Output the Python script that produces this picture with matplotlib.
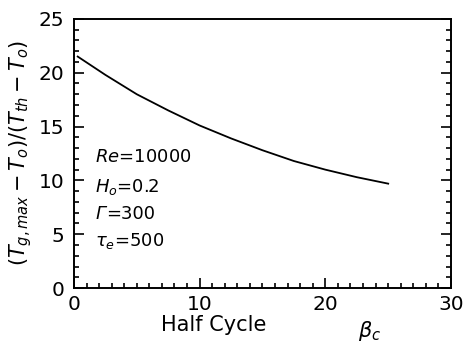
import matplotlib
matplotlib.use("Agg")
import matplotlib.pyplot as plt
from matplotlib.ticker import MultipleLocator

# values
half_cycle = [0.3, 2.5, 5, 7.5, 10, 12.5, 15, 17.5, 20, 22.5, 25]
temp_ratio = [21.5, 19.8, 18.0, 16.5, 15.1, 13.9, 12.8, 11.8, 11.0, 10.3, 9.7]
params = [r"$Re$=10000", r"$H_o$=0.2", None, r"$\tau_e$=500"]
param_y = [12.2, 9.4, 6.9, 4.4]

fig = plt.figure(figsize=(4.65, 3.43), dpi=100)
ax = fig.add_axes([0.159, 0.16, 0.811, 0.785])

ax.plot(half_cycle, temp_ratio, color="black", lw=1.3)
for txt, yy in zip(params, param_y):
    if txt is None:
        # italic Gamma followed by upright value
        ax.text(1.7, yy, "Γ", fontsize=13, style="italic", va="center", ha="left")
        ax.annotate("=300", xy=(1.7, yy), xytext=(7.8, 0), textcoords="offset points",
                    fontsize=13, va="center", ha="left")
    else:
        ax.text(1.7, yy, txt, fontsize=13, va="center", ha="left")

ax.set_xlim(0, 30)
ax.set_ylim(0, 25)
ax.xaxis.set_major_locator(MultipleLocator(10))
ax.xaxis.set_minor_locator(MultipleLocator(1))
ax.yaxis.set_major_locator(MultipleLocator(5))
ax.yaxis.set_minor_locator(MultipleLocator(1))
ax.tick_params(which="both", direction="in", right=True, top=False,
               labelsize=14.5, width=1.2)
ax.tick_params(axis="x", pad=5)
ax.tick_params(axis="y", pad=7)
ax.tick_params(which="major", length=7)
ax.tick_params(which="minor", length=3.5)
for s in ax.spines.values():
    s.set_linewidth(1.4)

ax.set_ylabel(r"$(T_{g,max}-T_o)/(T_{th}-T_o)$", fontsize=15, labelpad=3)
fig.text(214 / 465, 1 - 325 / 343, "Half Cycle", fontsize=15,
         ha="center", va="center")
fig.text(370 / 465, 1 - 331 / 343, r"$\beta_c$", fontsize=15,
         ha="center", va="center")

fig.savefig("out.png", dpi=100)
